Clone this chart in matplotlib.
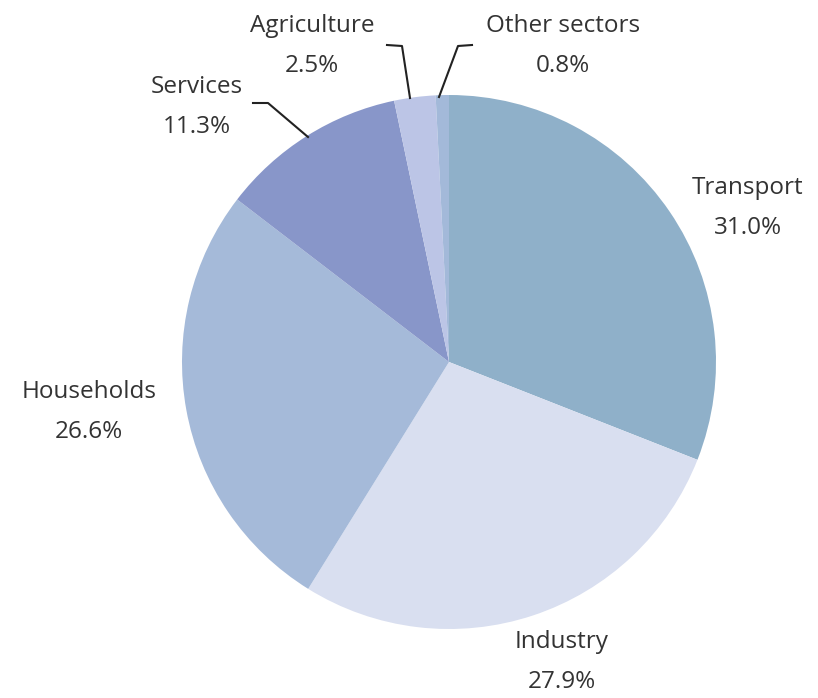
import matplotlib.pyplot as plt

# energy consumption shares by sector
sectors = ['Transport', 'Industry', 'Households', 'Services', 'Agriculture', 'Other sectors']
shares = [31.0, 27.9, 26.6, 11.3, 2.5, 0.8]
colors = ['#8FB0C9', '#D9DFF0', '#A5BAD9', '#8896C9', '#BCC5E6', '#A3B9D9']

W, H = 818, 698

fig = plt.figure(figsize=(W / 100, H / 100), dpi=100)
ax = fig.add_axes([0, 0, 1, 1])

cx, cy, r = 449, 362, 267
ax.pie(shares, colors=colors, startangle=90, counterclock=False,
       center=(cx, H - cy), radius=r, frame=True,
       wedgeprops=dict(linewidth=0))
ax.set_xlim(0, W)
ax.set_ylim(0, H)
ax.set_aspect('equal')
ax.axis('off')

# label positions in pixel coords (top line centre)
label_pos = {
    'Transport': (748, 188),
    'Industry': (562, 642),
    'Households': (89, 392),
    'Services': (197, 87),
    'Agriculture': (312, 26),
    'Other sectors': (563, 26),
}
for name, val in zip(sectors, shares):
    x, y = label_pos[name]
    ax.text(x, H - y, name, ha='center', va='center', fontsize=17.5,
            family='Open Sans', color='#333333')
    ax.text(x, H - y - 40, f'{val:.1f}%', ha='center', va='center', fontsize=17.5,
            family='Open Sans', color='#333333')

# leader lines
leaders = [
    [(253, 103), (268, 103), (308, 137)],
    [(387, 45), (402, 46), (410, 98)],
    [(472, 45), (458, 46), (439, 97)],
]
for pts in leaders:
    xs = [p[0] for p in pts]
    ys = [H - p[1] for p in pts]
    ax.plot(xs, ys, color='#222222', lw=1.5)

fig.savefig('out.png', dpi=100, facecolor='white')
